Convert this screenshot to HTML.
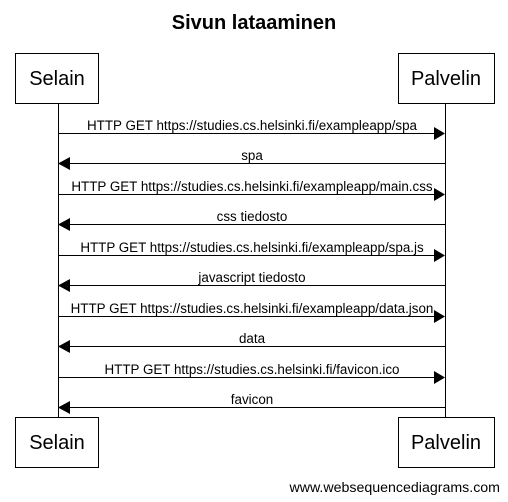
<!DOCTYPE html>
<html><head><meta charset="utf-8"><style>
html,body{margin:0;padding:0;background:#fff;}
svg{display:block;font-family:"Liberation Sans",Arial,sans-serif;}
</style></head><body>
<svg width="508" height="502" viewBox="0 0 508 502" xmlns="http://www.w3.org/2000/svg">
<rect width="508" height="502" fill="#fff"/>
<text x="254" y="29" text-anchor="middle" font-size="20" font-weight="bold">Sivun lataaminen</text>
<g fill="#fff" stroke="#000" stroke-width="1">
<rect x="15.5" y="53.5" width="83" height="50"/>
<rect x="398.5" y="53.5" width="96" height="50"/>
<rect x="15.5" y="417.5" width="83" height="50"/>
<rect x="398.5" y="417.5" width="96" height="50"/>
</g>
<g font-size="20" text-anchor="middle">
<text x="57" y="85">Selain</text><text x="446" y="85">Palvelin</text>
<text x="57" y="449">Selain</text><text x="446" y="449">Palvelin</text>
</g>
<g stroke="#000" stroke-width="1">
<line x1="58.5" y1="104" x2="58.5" y2="417"/>
<line x1="445.5" y1="104" x2="445.5" y2="417"/>
</g>
<g stroke="#000" stroke-width="1">
<line x1="58" y1="133.5" x2="434" y2="133.5"/>
<line x1="70" y1="163.5" x2="445" y2="163.5"/>
<line x1="58" y1="194.5" x2="434" y2="194.5"/>
<line x1="70" y1="224.5" x2="445" y2="224.5"/>
<line x1="58" y1="255.5" x2="434" y2="255.5"/>
<line x1="70" y1="285.5" x2="445" y2="285.5"/>
<line x1="58" y1="316.5" x2="434" y2="316.5"/>
<line x1="70" y1="346.5" x2="445" y2="346.5"/>
<line x1="58" y1="377.5" x2="434" y2="377.5"/>
<line x1="70" y1="407.5" x2="445" y2="407.5"/>
</g>
<g fill="#000">
<polygon points="434,127 445,133.5 434,140"/>
<polygon points="70,157 58,163.5 70,170"/>
<polygon points="434,188 445,194.5 434,201"/>
<polygon points="70,218 58,224.5 70,231"/>
<polygon points="434,249 445,255.5 434,262"/>
<polygon points="70,279 58,285.5 70,292"/>
<polygon points="434,310 445,316.5 434,323"/>
<polygon points="70,340 58,346.5 70,353"/>
<polygon points="434,371 445,377.5 434,384"/>
<polygon points="70,401 58,407.5 70,414"/>
</g>
<g font-size="13.4" text-anchor="middle">
<text x="252" y="130">HTTP GET https://studies.cs.helsinki.fi/exampleapp/spa</text>
<text x="252" y="160">spa</text>
<text x="252" y="191">HTTP GET https://studies.cs.helsinki.fi/exampleapp/main.css</text>
<text x="252" y="221">css tiedosto</text>
<text x="252" y="252">HTTP GET https://studies.cs.helsinki.fi/exampleapp/spa.js</text>
<text x="252" y="282">javascript tiedosto</text>
<text x="252" y="313">HTTP GET https://studies.cs.helsinki.fi/exampleapp/data.json</text>
<text x="252" y="343">data</text>
<text x="252" y="374">HTTP GET https://studies.cs.helsinki.fi/favicon.ico</text>
<text x="252" y="404">favicon</text>
</g>
<text x="500" y="492" font-size="14.2" text-anchor="end">www.websequencediagrams.com</text>
</svg>
</body></html>
